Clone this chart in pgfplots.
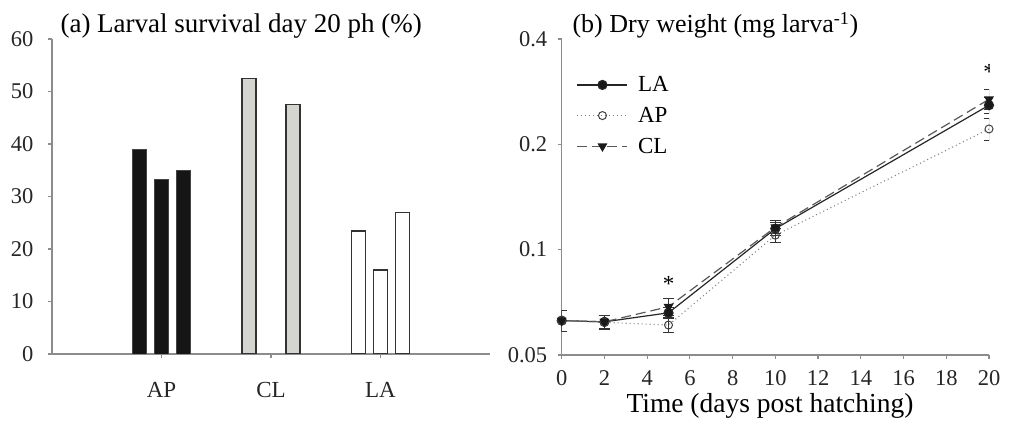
\documentclass[border=0pt]{standalone}
\usepackage{fontspec}
\setmainfont{Liberation Serif}
\usepackage{pgfplots}
\pgfplotsset{compat=1.18}

\definecolor{axgray}{HTML}{8C8C8C}
\definecolor{bardark}{HTML}{151515}
\definecolor{barlight}{HTML}{D4D4D0}
\definecolor{edge}{HTML}{333333}

\newcommand{\tickfont}{\fontsize{22.5bp}{27bp}\selectfont}

\begin{document}
\begin{tikzpicture}
\path[use as bounding box] (0,0) rectangle (1017bp,432bp);

% (a) survival bars
\begin{axis}[
  at={(52bp,78bp)}, anchor=south west,
  width=438bp, height=315bp, scale only axis,
  axis lines*=left,
  axis line style={axgray, line width=1.2bp},
  xmin=0, xmax=4, ymin=0, ymax=60,
  xtick={1,2,3}, xticklabels={AP,CL,LA},
  ytick={0,10,...,60},
  tick align=outside, major tick length=4bp,
  tick style={axgray, line width=1.2bp},
  ticklabel style={font=\tickfont, text=black!85},
  /pgf/number format/assume math mode=true,
  xticklabel style={font=\fontsize{23bp}{27bp}\selectfont, anchor=base, yshift=-39bp},
  yticklabel style={anchor=east, xshift=-11bp},
  every axis plot/.append style={ybar, bar width=14bp, bar shift=0pt},
]
\addplot[fill=bardark, draw=bardark!80!white, line width=1bp] coordinates {(0.8,39) (1.0,33.2) (1.2,34.9)};
\addplot[fill=barlight, draw=edge, line width=1.3bp] coordinates {(1.8,52.5) (2.2,47.5)};
\addplot[fill=white, draw=edge, line width=1.3bp] coordinates {(2.8,23.4) (3.0,16) (3.2,27)};
\end{axis}

% (b) dry weight
\begin{axis}[
  at={(561.7bp,77bp)}, anchor=south west,
  width=427.3bp, height=316bp, scale only axis,
  axis lines*=left,
  axis line style={axgray, line width=1.2bp},
  xmin=0, xmax=20, xtick={0,2,...,20},
  ymode=log, ymin=0.05, ymax=0.4,
  ytick={0.05,0.1,0.2,0.4}, yticklabels={0.05,0.1,0.2,0.4},
  yminorticks=false,
  tick align=outside, major tick length=4bp,
  tick style={axgray, line width=1.2bp},
  ticklabel style={font=\tickfont, text=black!85},
  /pgf/number format/assume math mode=true,
  xticklabel style={anchor=base, yshift=-27bp},
  yticklabel style={anchor=east, xshift=-7bp},
  xlabel={Time (days post hatching)},
  xlabel style={font=\fontsize{27.5bp}{33bp}\selectfont, anchor=base,
    at={(axis description cs:0.4875,0)}, yshift=-57bp},
  legend cell align=left,
  legend image code/.code={\draw[mark repeat=2,mark phase=2,#1]
    plot coordinates {(0bp,0bp) (25bp,0bp) (50bp,0bp)};},
  legend style={draw=none, fill=none, inner sep=0pt, font=\fontsize{23bp}{27bp}\selectfont,
    at={(0.035,0.888)}, anchor=north west, row sep=10bp,
    /tikz/every odd column/.append style={column sep=8bp}},
  error bars/y dir=both, error bars/y explicit,
  error bars/error bar style={line width=1bp, color=edge, solid},
  error bars/error mark options={rotate=90, mark size=5.5bp, line width=1bp, color=edge, solid},
]
\addplot[color=black!85, line width=1.2bp, mark=*, mark size=4.5bp,
  mark options={solid, fill=black!90}]
  coordinates {(0,0.0627) +- (0,0.0042) (2,0.0622) +- (0,0.0028) (5,0.0660) +- (0,0.0025)
               (10,0.1148) +- (0,0.005) (20,0.2587) +- (0,0.013)};
\addlegendentry{LA}
\addplot[color=black!50, line width=1.1bp, dash pattern=on 1bp off 3bp, mark=o, mark size=4bp,
  mark options={solid, fill=white, draw=black!75, line width=1bp}]
  coordinates {(0,0.0627) +- (0,0.0042) (2,0.0620) +- (0,0.0028) (5,0.0609) +- (0,0.003)
               (10,0.1100) +- (0,0.005) (20,0.2213) +- (0,0.016)};
\addlegendentry{AP}
\addplot[color=black!65, line width=1.2bp, dash pattern=on 10bp off 5bp, mark=triangle*, mark size=4.5bp,
  mark options={solid, rotate=180, fill=black!90, draw=black!90}]
  coordinates {(0,0.0627) +- (0,0.0042) (2,0.0622) +- (0,0.0028) (5,0.0687) +- (0,0.004)
               (10,0.1159) +- (0,0.005) (20,0.2690) +- (0,0.017)};
\addlegendentry{CL}
\node[font=\fontsize{23bp}{27bp}\selectfont] at (axis cs:5,0.080) {*};
\node[font=\fontsize{23bp}{27bp}\selectfont] at (axis cs:20,0.322) {*};
\end{axis}

\node[anchor=base west, font=\fontsize{27bp}{32bp}\selectfont] at (57bp,399bp)
  {(a) Larval survival day 20 ph (\%)};
\node[anchor=base west, font=\fontsize{26bp}{31bp}\selectfont] at (569bp,399bp)
  {(b) Dry weight (mg larva\textsuperscript{-1})};
\end{tikzpicture}
\end{document}
